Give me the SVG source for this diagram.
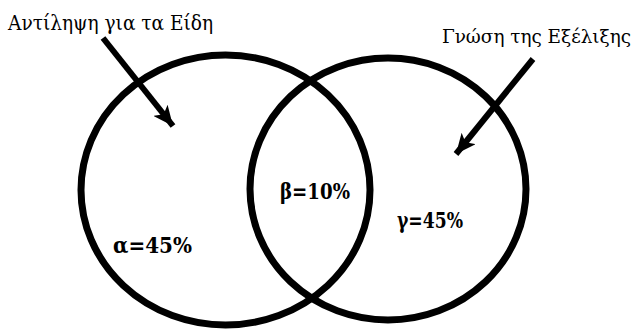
<svg xmlns="http://www.w3.org/2000/svg" width="637" height="329" viewBox="0 0 637 329">
<style>
.c{fill:none;stroke:#000;stroke-width:7}
.a{stroke:#000;stroke-width:6;fill:none}
.t{font-size:20px;fill:#000}
.v{font-size:23px;font-weight:bold;fill:#000}
</style>
<defs>
<marker id="ah" markerUnits="userSpaceOnUse" markerWidth="22" markerHeight="18" refX="20" refY="9" orient="auto">
<path d="M0,0 L20,9 L0,18 L5,9 Z" fill="#000"/>
</marker>
</defs>
<rect width="637" height="329" fill="#fff"/>
<g id="circle-a"><ellipse class="c" cx="225.5" cy="190" rx="144.5" ry="135"/></g>
<g id="circle-b"><ellipse class="c" cx="388" cy="189" rx="138" ry="131"/></g>
<g id="labels" font-family="DejaVu Serif, serif">
<g id="label-a"><text class="t" x="8" y="30" textLength="205" lengthAdjust="spacingAndGlyphs">Αντίληψη για τα Είδη</text></g>
<g id="label-b"><text class="t" x="631" y="43" text-anchor="end" style="font-size:18.4px">Γνώση της Εξέλιξης</text></g>
<g id="region-a"><text class="v" x="113" y="253" textLength="79" lengthAdjust="spacingAndGlyphs">α=45%</text></g>
<g id="region-b"><text class="v" x="280" y="199" textLength="70" lengthAdjust="spacingAndGlyphs">β=10%</text></g>
<g id="region-c"><text class="v" x="397" y="228" textLength="66" lengthAdjust="spacingAndGlyphs">γ=45%</text></g>
</g>
<g id="connectors">
<line class="a" x1="103" y1="38" x2="173" y2="126" marker-end="url(#ah)"/>
<line class="a" x1="533" y1="59" x2="456" y2="154" marker-end="url(#ah)"/>
</g>
</svg>
